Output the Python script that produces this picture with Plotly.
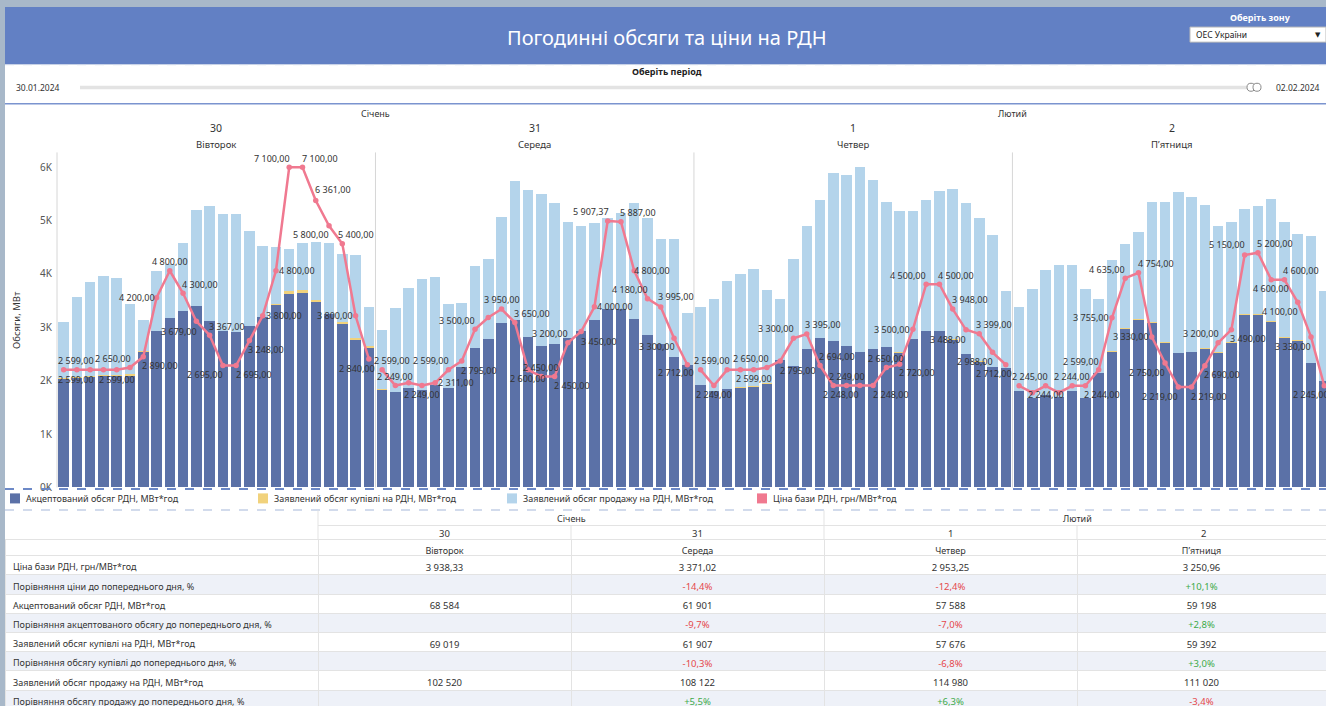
import plotly.graph_objects as go

W, H = 1326, 706          # reference pixel space
FIG_H = 714               # figure height (page capture is resized to 706)
KY = FIG_H / H
FONT = "Noto Sans, DejaVu Sans, sans-serif"

# ---------------- data ----------------
months = ["Січень", "Лютий"]
day_numbers = ["30", "31", "1", "2"]
weekdays = ["Вівторок", "Середа", "Четвер", "П’ятниця"]

sell_30 = [3088, 3558, 3840, 3953, 3922, 3434, 3133, 4048, 4186, 4574, 5188, 5263,
           5113, 5113, 4793, 4511, 4492, 4461, 4574, 4586, 4574, 4361, 4342, 3371]
sell_31 = [2945, 3352, 3727, 3904, 3935, 3421, 3450, 4141, 4267, 5063, 5733, 5564,
           5482, 5326, 4969, 4900, 4944, 5038, 5144, 5319, 5050, 4655, 4655, 3260]
sell_1 = [3371, 3528, 3859, 3998, 4079, 3684, 3528, 4267, 4887, 5376, 5889, 5852,
          6002, 5752, 5345, 5169, 5169, 5376, 5551, 5583, 5326, 5044, 4731, 3671]
sell_2 = [3371, 3715, 4060, 4167, 4154, 3715, 3515, 4248, 4549, 4780, 5332, 5332,
          5526, 5439, 5276, 4900, 4969, 5207, 5263, 5395, 4969, 4750, 4705, 3677]

accepted_30 = [2024, 2043, 2068, 2080, 2087, 2087, 2525, 2920, 3170, 3289, 3383, 3102,
               2920, 2901, 3026, 3183, 3402, 3609, 3634, 3465, 3246, 3058, 2757, 2607]
accepted_31 = [1823, 1774, 1855, 1817, 1917, 1855, 2243, 2607, 2776, 3077, 3120, 2807,
               2650, 2682, 2788, 2920, 3120, 3340, 3340, 3152, 2857, 2682, 2444, 2293]
accepted_1 = [1915, 1805, 1830, 1850, 1880, 1925, 2385, 2275, 2590, 2790, 2740, 2650,
              2525, 2590, 2632, 2520, 2778, 2915, 2915, 2760, 2490, 2350, 2240, 2226]
accepted_2 = [1805, 1667, 1729, 1692, 1805, 1667, 2137, 2538, 2964, 3133, 3077, 2701,
              2519, 2532, 2594, 2519, 2701, 3227, 3227, 3089, 2795, 2732, 2318, 1992]

buy_30 = [2034, 2058, 2088, 2100, 2107, 2112, 2550, 2930, 3170, 3289, 3383, 3102,
          2920, 2901, 3026, 3193, 3437, 3669, 3694, 3495, 3246, 3088, 2792, 2637]
buy_31 = [1829, 1774, 1855, 1817, 1917, 1855, 2243, 2607, 2776, 3077, 3120, 2807,
          2650, 2682, 2788, 2920, 3120, 3340, 3340, 3152, 2857, 2682, 2444, 2293]
buy_1 = [1915, 1805, 1830, 1865, 1895, 1945, 2385, 2275, 2590, 2790, 2740, 2650,
         2525, 2590, 2632, 2530, 2778, 2925, 2915, 2770, 2490, 2358, 2240, 2226]
buy_2 = [1805, 1667, 1729, 1692, 1805, 1667, 2137, 2553, 2984, 3153, 3097, 2716,
         2519, 2532, 2604, 2529, 2711, 3242, 3242, 3104, 2810, 2746, 2318, 1992]

price_30 = [2599, 2599, 2599, 2599, 2599, 2650, 2890, 4200, 4800, 4300, 3679, 3367,
            2695, 2695, 3248, 3800, 4800, 7100, 7100, 6361, 5800, 5400, 3800, 2840]
price_31 = [2599, 2249, 2311, 2249, 2311, 2599, 2795, 3500, 3760, 3950, 3650, 2600,
            2450, 2450, 3200, 3450, 4000, 5907.37, 5887, 4800, 4180, 3995, 3300, 2712]
price_1 = [2599, 2249, 2599, 2599, 2599, 2650, 2795, 3300, 3395, 2694, 2248, 2249,
           2249, 2248, 2650, 2720, 3500, 4500, 4500, 3948, 3488, 3399, 2988, 2712]
price_2 = [2245, 2090, 2244, 2090, 2244, 2244, 2599, 3755, 4635, 4754, 3330, 2750,
           2219, 2219, 2690, 3200, 3490, 5150, 5200, 4600, 4600, 4100, 3330, 2245]

yticks = [0, 1000, 2000, 3000, 4000, 5000, 6000]
yticklabels = ["0K", "1K", "2K", "3K", "4K", "5K", "6K"]

row_labels = [
    "Ціна бази РДН, грн/МВт*год",
    "Порівняння ціни до попереднього дня, %",
    "Акцептований обсяг РДН, МВт*год",
    "Порівняння акцептованого обсягу до попереднього дня, %",
    "Заявлений обсяг купівлі на РДН, МВт*год",
    "Порівняння обсягу купівлі до попереднього дня, %",
    "Заявлений обсяг продажу на РДН, МВт*год",
    "Порівняння обсягу продажу до попереднього дня, %",
]
day_price_avg = [3938.33, 3371.02, 2953.25, 3250.96]
price_change = [None, -14.4, -12.4, 10.1]
accepted_total = [68584, 61901, 57588, 59198]
accepted_change = [None, -9.7, -7.0, 2.8]
buy_total = [69019, 61907, 57676, 59392]
buy_change = [None, -10.3, -6.8, 3.0]
sell_total = [102520, 108122, 114980, 111020]
sell_change = [None, 5.5, 6.3, -3.4]

series_names = ["Акцептований обсяг РДН, МВт*год", "Заявлений обсяг купівлі на РДН, МВт*год",
                "Заявлений обсяг продажу на РДН, МВт*год", "Ціна бази РДН, грн/МВт*год"]

# ---------------- style ----------------
C_ACC = "#5B71A7"
C_BUY = "#F1D27C"
C_SELL = "#B4D4EB"
C_PRICE = "#F07990"
C_HEAD = "#6280C4"

# label offsets (px) per day: hour -> (dx, dy down)
label_offsets = [
    {1: (12, 10), 2: (-1, -9), 5: (0, 10), 6: (-17, -9), 7: (17, 9), 8: (-20, 0), 9: (0, -9.5),
     10: (17, -9), 11: (-17, 10), 12: (17, -9), 13: (-18, 9), 14: (18, 9), 15: (17, 9),
     16: (21, 0), 17: (21, 0), 18: (-17.6, -9), 19: (17.4, -9), 20: (17, -10.6), 21: (-18, 9),
     22: (14, -9), 23: (-20.7, 0), 24: (-12, 9)},
    {1: (10, -9), 2: (0, -9), 4: (0, 9), 5: (20.5, 0), 6: (-17, -9), 7: (17, 9), 8: (-17.7, -9),
     10: (0, -9), 11: (17, -9), 12: (0, 9), 13: (0, -9), 14: (17.6, 9), 15: (-18, -9),
     16: (18, 10), 17: (20.5, 0), 18: (-17, -9), 19: (17, -9), 20: (17.4, 0), 21: (-17.6, -9),
     22: (15, -10), 23: (-17.5, 8), 24: (-11.4, 8)},
    {1: (11, -9), 2: (0, 9), 5: (0, 9), 6: (-16, -9), 7: (18, 9), 8: (-17.5, -10), 9: (16.5, -9),
     10: (17, -9), 11: (8, 9), 12: (0, -9), 14: (18, 9), 15: (0, -9), 16: (17, 8), 17: (-20.7, 0),
     18: (-18, -9), 19: (17, -9), 20: (17, -9), 21: (-18, 10), 22: (14.6, -9), 23: (-17.7, 9),
     24: (-12, 9)},
    {1: (11, -9), 3: (0, 9), 5: (0, -9), 6: (17, 9), 7: (-18, -8), 8: (-21, 0), 9: (-18, -9),
     10: (17, -9), 11: (-21, 0), 12: (-18, 9), 13: (-18, 9), 14: (17.6, 9), 15: (17, 9),
     16: (-17.5, -9), 17: (17, 9), 18: (-18, -10), 19: (17, -9), 20: (0, 9), 21: (17, -9),
     22: (-18, 9), 23: (-18, 9), 24: (-13, 9)},
]


def fmt_num(v, dec):
    s = f"{v:,.{dec}f}"
    return s.replace(",", " ").replace(".", ",")


def fmt_pct(v):
    if v is None:
        return ""
    return f"{v:+.1f}%".replace(".", ",")


def px(X):
    return X / W


def py(Y):
    return 1 - Y / H


sell = sell_30 + sell_31 + sell_1 + sell_2
accepted = accepted_30 + accepted_31 + accepted_1 + accepted_2
buy = buy_30 + buy_31 + buy_1 + buy_2
prices = [price_30, price_31, price_1, price_2]
idx = list(range(len(sell)))

fig = go.Figure()
BW = 0.79
fig.add_trace(go.Bar(x=idx, y=sell, width=BW, marker=dict(color=C_SELL, line=dict(width=0)),
                     name=series_names[2]))
fig.add_trace(go.Bar(x=idx, y=buy, width=BW, marker=dict(color=C_BUY, line=dict(width=0)),
                     name=series_names[1]))
fig.add_trace(go.Bar(x=idx, y=accepted, width=BW, marker=dict(color=C_ACC, line=dict(width=0)),
                     name=series_names[0]))
for d, pr in enumerate(prices):
    xs = idx[d * 24:(d + 1) * 24]
    fig.add_trace(go.Scatter(x=xs, y=pr, yaxis="y2", mode="lines+markers",
                             line=dict(color=C_PRICE, width=2.5),
                             marker=dict(color=C_PRICE, size=5.5),
                             name=series_names[3], showlegend=False))

ann = []


def A(X, Y, text, size=9, color="#333", xanchor="center", **kw):
    ann.append(dict(x=px(X), y=py(Y), xref="paper", yref="paper", text=text, showarrow=False,
                    xanchor=xanchor, yanchor="middle",
                    font=dict(size=size, color=color, family=FONT), **kw))


# price labels
for d, pr in enumerate(prices):
    for h, (dx, dy) in label_offsets[d].items():
        i = d * 24 + h - 1
        v = pr[h - 1]
        ann.append(dict(x=i, y=v, xref="x", yref="y2", text=fmt_num(v, 2), showarrow=False,
                        xshift=dx, yshift=-dy * KY, xanchor="center", yanchor="middle",
                        font=dict(size=9, color="#333", family=FONT)))

# header texts
A(667, 37, "Погодинні обсяги та ціни на РДН", size=20, color="white")
A(1260, 17, "<b>Оберіть зону</b>", size=9, color="white")
A(1194, 34.5, "ОЕС України", size=8.5, color="#222", xanchor="left")
A(1318, 34.5, "▼", size=7, color="#222")
A(667, 71, "<b>Оберіть період</b>", size=9, color="#222")
A(14, 87, "30.01.2024", size=8.5, color="#333", xanchor="left")
A(1274, 87, "02.02.2024", size=8.5, color="#333", xanchor="left")

# chart column headers
panel_w = 318.5
A(57 + panel_w, 113, months[0], size=9, color="#333")
A(57 + 3 * panel_w, 113, months[1], size=9, color="#333")
for d in range(4):
    cx = 57 + panel_w * (d + 0.5)
    A(cx, 128, day_numbers[d], size=10.5, color="#333")
    A(cx, 144, weekdays[d], size=9.5, color="#333")

A(17, 319, "Обсяги, МВт", size=9.5, color="#333", textangle=-90)

# legend
legend_colors = [C_ACC, C_BUY, C_SELL, C_PRICE]
legend_x = [10, 258, 507, 757]
shapes = []
for k in range(4):
    shapes.append(dict(type="rect", xref="paper", yref="paper", x0=px(legend_x[k]),
                       x1=px(legend_x[k] + 10), y0=py(502), y1=py(492),
                       fillcolor=legend_colors[k], line=dict(width=0)))
    A(legend_x[k] + 14, 497, series_names[k], size=9, color="#333", xanchor="left")

# table headers (months and day numbers)
TABLE_TOP = 538
col_edges = [5, 318, 571, 824, 1077, 1330]
A((col_edges[1] + col_edges[3]) / 2, 517, months[0], size=9, color="#333")
A((col_edges[3] + col_edges[5]) / 2, 517, months[1], size=9, color="#333")
for d in range(4):
    A((col_edges[d + 1] + col_edges[d + 2]) / 2, 531.5, day_numbers[d], size=9.5, color="#333")

# ---------------- shapes ----------------
bg = [
    dict(type="rect", xref="paper", yref="paper", x0=px(5), x1=1, y0=0, y1=py(64),
         fillcolor="white", line=dict(width=0), layer="below"),
    dict(type="rect", xref="paper", yref="paper", x0=px(5), x1=1, y0=py(64), y1=py(7),
         fillcolor=C_HEAD, line=dict(width=0), layer="below"),
    dict(type="line", xref="paper", yref="paper", x0=px(5), x1=1, y0=py(64.5), y1=py(64.5),
         line=dict(color="#C9D3E8", width=1, dash="dash")),
    dict(type="rect", xref="paper", yref="paper", x0=px(80), x1=px(1248), y0=py(89), y1=py(85.5),
         fillcolor="#E3E3E3", line=dict(width=0)),
    dict(type="circle", xref="paper", yref="paper", x0=px(1247), x1=px(1255), y0=py(91), y1=py(83),
         fillcolor="white", line=dict(color="#8A8A8A", width=1)),
    dict(type="circle", xref="paper", yref="paper", x0=px(1253), x1=px(1261), y0=py(91), y1=py(83),
         fillcolor="white", line=dict(color="#8A8A8A", width=1)),
    dict(type="rect", xref="paper", yref="paper", x0=px(1190), x1=px(1326), y0=py(42), y1=py(27),
         fillcolor="white", line=dict(color="#BBBBBB", width=1)),
    dict(type="line", xref="paper", yref="paper", x0=px(5), x1=1, y0=py(103.5), y1=py(103.5),
         line=dict(color="#7B94CF", width=1.5)),
    dict(type="line", xref="paper", yref="paper", x0=px(5), x1=1, y0=py(487.5), y1=py(487.5),
         line=dict(color="#6D89C7", width=2, dash="dash")),
    dict(type="line", xref="paper", yref="paper", x0=px(5), x1=1, y0=py(508.5), y1=py(508.5),
         line=dict(color="#C3CFE6", width=1.5, dash="dash")),
    dict(type="line", xref="paper", yref="paper", x0=px(57), x1=px(57), y0=py(486), y1=py(152),
         line=dict(color="#D6D6D6", width=1), layer="below"),
]
for d in range(1, 4):
    bg.append(dict(type="line", xref="x", yref="paper", x0=24 * d - 0.5, x1=24 * d - 0.5,
                   y0=py(486), y1=py(152), line=dict(color="#D6D6D6", width=1), layer="below"))
# table header grid lines
TL = "#E3E3E3"
bg += [
    dict(type="line", xref="paper", yref="paper", x0=px(318), x1=1, y0=py(524), y1=py(524),
         line=dict(color=TL, width=1)),
    dict(type="line", xref="paper", yref="paper", x0=px(318), x1=px(318), y0=py(TABLE_TOP), y1=py(509),
         line=dict(color=TL, width=1)),
    dict(type="line", xref="paper", yref="paper", x0=px(824), x1=px(824), y0=py(TABLE_TOP), y1=py(509),
         line=dict(color=TL, width=1)),
    dict(type="line", xref="paper", yref="paper", x0=px(571), x1=px(571), y0=py(TABLE_TOP), y1=py(524),
         line=dict(color=TL, width=1)),
    dict(type="line", xref="paper", yref="paper", x0=px(1077), x1=px(1077), y0=py(TABLE_TOP), y1=py(524),
         line=dict(color=TL, width=1)),
]

# ---------------- table ----------------
RED, GREEN, TXT = "#E5484B", "#3DAA4A", "#333333"


def pct_color(v):
    if v is None:
        return TXT
    return RED if v < 0 else GREEN


cols = [row_labels]
colors = [[TXT] * 8]
for d in range(4):
    cols.append([fmt_num(day_price_avg[d], 2), fmt_pct(price_change[d]),
                 fmt_num(accepted_total[d], 0), fmt_pct(accepted_change[d]),
                 fmt_num(buy_total[d], 0), fmt_pct(buy_change[d]),
                 fmt_num(sell_total[d], 0), fmt_pct(sell_change[d])])
    colors.append([TXT, pct_color(price_change[d]), TXT, pct_color(accepted_change[d]),
                   TXT, pct_color(buy_change[d]), TXT, pct_color(sell_change[d])])
row_fill = ["white", "#EEF1F8"] * 4

fig.add_trace(go.Table(
    domain=dict(x=[px(5), 1], y=[0, py(TABLE_TOP)]),
    columnwidth=[313, 253, 253, 253, 249],
    header=dict(values=[""] + weekdays, height=16.15, fill_color="white",
                line=dict(color=TL, width=1), align=["left"] + ["center"] * 4,
                font=dict(size=9, color=TXT, family=FONT)),
    cells=dict(values=cols, height=19.2, fill_color=[row_fill] * 5,
               line=dict(color=TL, width=1), align=["left"] + ["center"] * 4,
               font=dict(size=[9, 9.5, 9.5, 9.5, 9.5], color=colors, family=FONT)),
))

fig.update_layout(
    width=W, height=FIG_H, margin=dict(l=0, r=0, t=0, b=0),
    paper_bgcolor="#A8B8C9", plot_bgcolor="white",
    barmode="overlay", bargap=0, showlegend=False,
    font=dict(family=FONT, color="#333"),
    xaxis=dict(domain=[px(57), 1], range=[-0.5, 95.13], visible=False, fixedrange=True),
    yaxis=dict(domain=[py(486), py(152)], range=[0, 6278], tickvals=yticks, ticktext=yticklabels,
               showgrid=False, zeroline=False, showline=False, ticks="",
               tickfont=dict(size=10, color="#555", family=FONT), ticklabelstandoff=4),
    yaxis2=dict(overlaying="y", range=[-13, 7429], visible=False),
    annotations=ann,
    shapes=bg + shapes,
)

post = (
    "document.documentElement.style.margin='0';"
    "document.body.style.margin='0';"
    "document.body.style.overflow='hidden';"
)
fig.write_html("out.html", config={"displayModeBar": False}, post_script=post)
